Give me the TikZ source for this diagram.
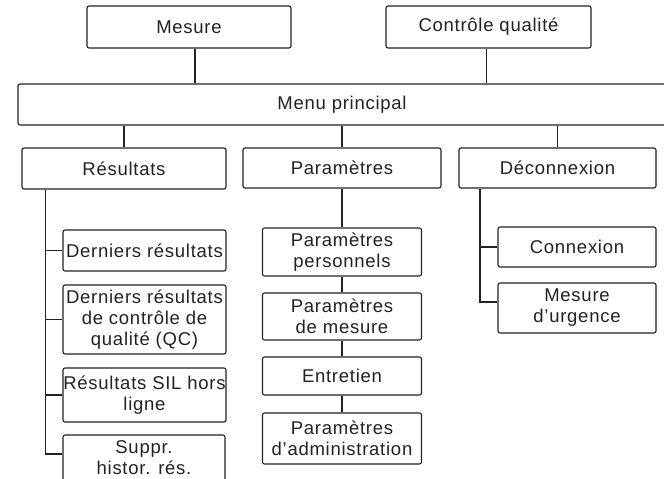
\documentclass[tikz,border=0pt]{standalone}
\usepackage{fontspec}
\usepackage{xcolor}
\usepackage{tikz}
\newfontfamily\boxfont{Liberation Sans}[LetterSpace=4.0]
\definecolor{linex}{HTML}{222222}
\tikzset{
  box/.style={draw=linex,line width=1.1pt,rounded corners=2pt,fill=white,align=center,inner sep=0pt,
    font=\boxfont\fontsize{18.5}{21}\selectfont,text=linex},
  ln/.style={line width=1.1pt,linex}
}
\begin{document}
\begin{tikzpicture}[x=1pt,y=1pt]
\useasboundingbox (0,0) rectangle (664,-479);
\clip (0,0) rectangle (664,-479);
\node[box,minimum width=204,minimum height=42] (mes) at (189,-27) {Mesure};
\node[box,minimum width=205,minimum height=42] (cq) at (488.5,-27) {Contrôle qualité};
\node[box,minimum width=648,minimum height=41] (menu) at (342,-104.5) {Menu principal};
\node[box,minimum width=204,minimum height=41] (res) at (124,-168.5) {Résultats};
\node[box,minimum width=198,minimum height=40] (par) at (342,-168) {Paramètres};
\node[box,minimum width=197,minimum height=40] (dec) at (557.5,-168) {Déconnexion};
\node[box,minimum width=163,minimum height=41] (dr) at (144.5,-250.5) {Derniers résultats};
\node[box,minimum width=163,minimum height=69] (drqc) at (144.5,-319.5) {Derniers résultats\\de contrôle de\\qualité (QC)};
\node[box,minimum width=163,minimum height=54] (sil) at (144.5,-395) {Résultats SIL hors\\ligne};
\node[box,minimum width=162,minimum height=46] (sup) at (144,-458) {Suppr.\\histor. rés.};
\node[box,minimum width=159,minimum height=48] (pp) at (342,-252) {Paramètres\\personnels};
\node[box,minimum width=159,minimum height=47] (pm) at (342,-316.5) {Paramètres\\de mesure};
\node[box,minimum width=159,minimum height=38] (ent) at (342,-376) {Entretien};
\node[box,minimum width=159,minimum height=51] (pa) at (342,-438.5) {Paramètres\\d’administration};
\node[box,minimum width=158,minimum height=40] (con) at (577,-247) {Connexion};
\node[box,minimum width=158,minimum height=50] (mu) at (577,-308) {Mesure\\d’urgence};
\coordinate (rt) at (45.5,0);
\coordinate (dt) at (480,0);
\coordinate (supb) at ([yshift=4pt]sup.west);
\coordinate (mub) at ([yshift=6pt]mu.west);
\draw[ln] ([xshift=6pt]mes.south) -- ([xshift=6pt]mes.south |- menu.north);
\draw[ln] ([xshift=-2pt]cq.south) -- ([xshift=-2pt]cq.south |- menu.north);
\foreach \n in {res,par,dec}
  \draw[ln] (menu.south -| \n.north) -- (\n.north);
\draw[ln] (rt |- res.south) -- (rt |- supb) -- (supb);
\foreach \n in {dr,drqc,sil}
  \draw[ln] (rt |- \n.west) -- (\n.west);
\draw[ln] (par) -- (pp) -- (pm) -- (ent) -- (pa);
\draw[ln] (dt |- dec.south) -- (dt |- mub) -- (mub);
\draw[ln] (dt |- con.west) -- (con.west);
\end{tikzpicture}
\end{document}
